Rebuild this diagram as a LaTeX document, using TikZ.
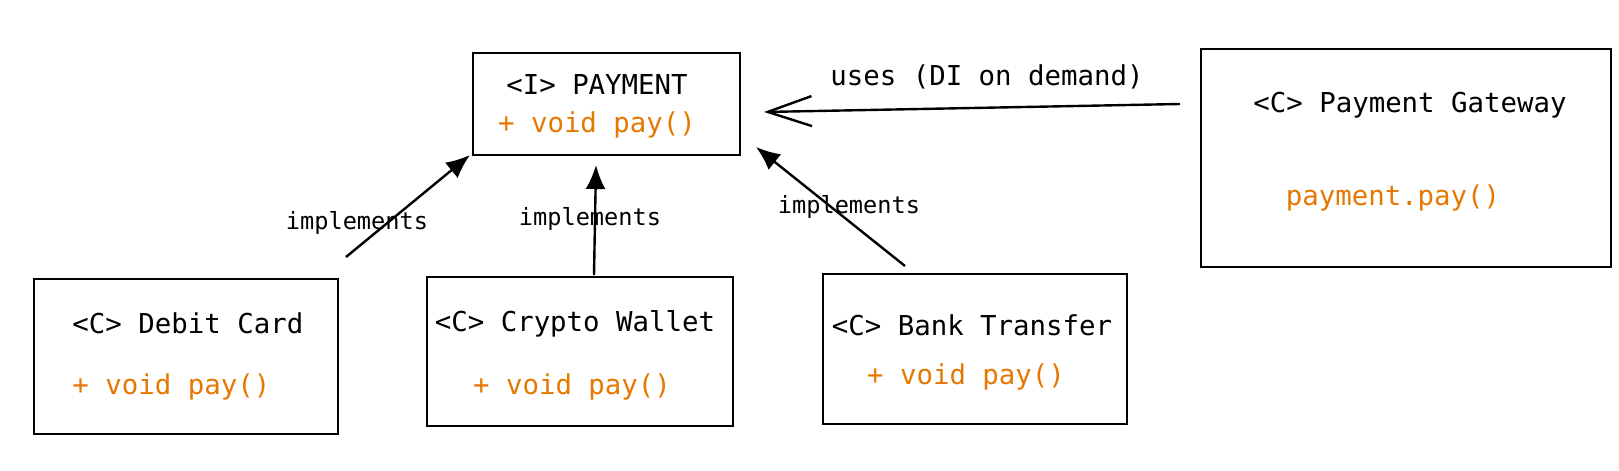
\documentclass[tikz,border=0pt]{standalone}
\usepackage{fontspec}
\usepackage{tikz}
\usetikzlibrary{arrows.meta}
\newfontfamily\monofont{DejaVu Sans Mono}
\definecolor{payorange}{HTML}{E67700}

\tikzset{
    umlbox/.style={draw, line width=1pt, inner sep=0pt},
    title/.style={font=\monofont\fontsize{13.7}{16}\selectfont, inner sep=0pt},
    method/.style={title, text=payorange},
    edgelabel/.style={font=\monofont\fontsize{11.8}{14}\selectfont, inner sep=0pt},
    realizes/.style={line width=1.2pt, -{Latex[length=12pt, width=10pt]}},
    uses/.style={line width=1.2pt, -{Straight Barb[length=22pt, width=15pt]}},
}

\begin{document}
\begin{tikzpicture}[x=0.5pt, y=-0.5pt]
    \useasboundingbox (0,0) rectangle (1619,471);

    % boxes
    \node[umlbox, minimum width=133.5pt, minimum height=51pt] (payment) at (606.5,104) {};
    \node[umlbox, minimum width=205pt, minimum height=109pt] (gateway) at (1406,158) {};
    \node[umlbox, minimum width=152pt, minimum height=77.5pt] (debit) at (186,356.5) {};
    \node[umlbox, minimum width=153pt, minimum height=74.5pt] (crypto) at (580,351.5) {};
    \node[umlbox, minimum width=152pt, minimum height=75pt] (bank) at (975,349) {};

    % texts
    \node[title] (payment-name) at (597,85) {<I> PAYMENT};
    \node[method] (payment-pay) at (597,125) {+ void pay()};
    \node[title] (gateway-name) at (1410,105) {<C> Payment Gateway};
    \node[method] (gateway-call) at (1393,198) {payment.pay()};
    \node[title, anchor=west] (debit-name) at (72,323) {<C> Debit Card};
    \node[method, anchor=west] (debit-pay) at (72,387) {+ void pay()};
    \node[title] (crypto-name) at (575,324) {<C> Crypto Wallet};
    \node[method] (crypto-pay) at (572,387) {+ void pay()};
    \node[title] (bank-name) at (972,325) {<C> Bank Transfer};
    \node[method] (bank-pay) at (966,377) {+ void pay()};

    % arrow ends
    \coordinate (debit-out) at (346,257);
    \coordinate (payment-in-l) at (470,155);
    \coordinate (crypto-out) at (594,275);
    \coordinate (payment-in-m) at (596,165);
    \coordinate (bank-out) at (905,266);
    \coordinate (payment-in-r) at (756,147);
    \coordinate (gateway-out) at (1180,104);
    \coordinate (payment-in-e) at (764,112);

    \draw[realizes] (debit-out) -- (payment-in-l);
    \draw[realizes] (crypto-out) -- (payment-in-m);
    \draw[realizes] (bank-out) -- (payment-in-r);
    \draw[uses] (gateway-out) -- (payment-in-e);

    \node[edgelabel] (impl-l) at (357,223) {implements};
    \node[edgelabel] (impl-m) at (590,219) {implements};
    \node[edgelabel] (impl-r) at (849,207) {implements};
    \node[title] (uses-label) at (987,77) {uses (DI on demand)};

\end{tikzpicture}
\end{document}
